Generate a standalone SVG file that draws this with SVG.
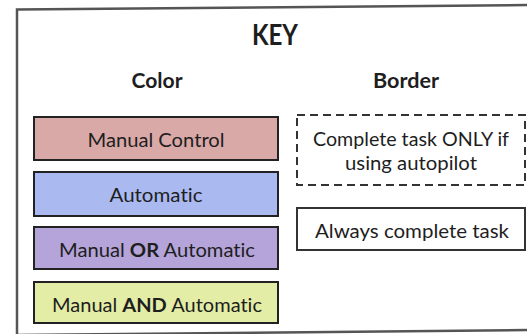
<svg xmlns="http://www.w3.org/2000/svg" width="527" height="334" viewBox="0 0 527 334">
  <style>
    text { font-family: Lato, "Liberation Sans", sans-serif; fill: #1e1e1e; text-anchor: middle; font-variant-ligatures: none; }
    .title { font-size: 29px; font-weight: bold; }
    .head { font-size: 21px; font-weight: bold; }
    .lbl { font-size: 19.5px; }
    .box { stroke: #222; stroke-width: 2; }
    .b { font-weight: bold; }
  </style>
  <rect width="527" height="334" fill="#fff"/>

  <!-- outer frame of the key -->
  <g id="frame" fill="none" stroke="#555" stroke-width="2.5">
    <path d="M17,338 L17,9.5 L530,5"/>
    <path d="M17,335 L530,330"/>
  </g>

  <g id="headings">
    <text class="title" x="275" y="45" textLength="46" lengthAdjust="spacingAndGlyphs">KEY</text>
    <text class="head" x="157" y="88" textLength="51" lengthAdjust="spacingAndGlyphs">Color</text>
    <text class="head" x="406" y="88" textLength="66" lengthAdjust="spacingAndGlyphs">Border</text>
  </g>

  <!-- colour legend -->
  <g id="manual-control">
    <rect class="box" x="34" y="117" width="244" height="43" fill="#d9a9a7"/>
    <text class="lbl" x="156" y="147" textLength="137" lengthAdjust="spacingAndGlyphs">Manual Control</text>
  </g>
  <g id="automatic">
    <rect class="box" x="34" y="172" width="244" height="44" fill="#aabaf1"/>
    <text class="lbl" x="156" y="202" textLength="93" lengthAdjust="spacingAndGlyphs">Automatic</text>
  </g>
  <g id="manual-or-automatic">
    <rect class="box" x="34" y="227" width="244" height="42" fill="#b5a4d9"/>
    <text class="lbl" x="157" y="257" textLength="196" lengthAdjust="spacingAndGlyphs">Manual <tspan class="b">OR</tspan> Automatic</text>
  </g>
  <g id="manual-and-automatic">
    <rect class="box" x="34" y="282" width="244" height="41" fill="#e3eda6"/>
    <text class="lbl" x="157" y="312" textLength="210" lengthAdjust="spacingAndGlyphs">Manual <tspan class="b">AND</tspan> Automatic</text>
  </g>

  <!-- border legend -->
  <g id="autopilot-only">
    <rect x="297" y="115" width="228" height="70" fill="#fff" stroke="#333" stroke-width="2" stroke-dasharray="8,5"/>
    <text class="lbl" x="411" y="146" textLength="196" lengthAdjust="spacingAndGlyphs">Complete task ONLY if</text>
    <text class="lbl" x="411" y="170" textLength="132" lengthAdjust="spacingAndGlyphs">using autopilot</text>
  </g>
  <g id="always-complete">
    <rect x="297" y="208" width="228" height="42" fill="#fff" stroke="#333" stroke-width="2"/>
    <text class="lbl" x="412" y="238" textLength="194" lengthAdjust="spacingAndGlyphs">Always complete task</text>
  </g>
</svg>
